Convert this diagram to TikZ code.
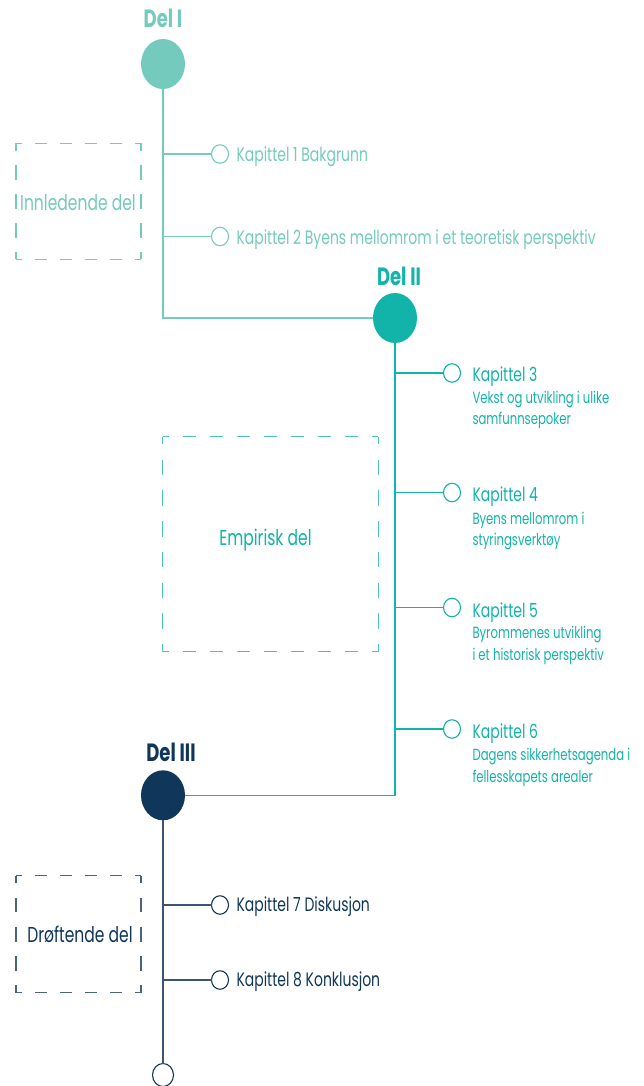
\documentclass[tikz,border=0pt]{standalone}
\usepackage{fontspec}
\setmainfont{Poppins}[FakeStretch=0.72]
\usetikzlibrary{shapes.geometric}
\definecolor{cA}{HTML}{74CABC}
\definecolor{cB}{HTML}{12B3A8}
\definecolor{cBd}{HTML}{4CC4B8}
\definecolor{cC}{HTML}{10365A}
\definecolor{cCl}{HTML}{3B5573}
\definecolor{cCd}{HTML}{4A6380}
\begin{document}
\begin{tikzpicture}[x=1pt,y=-1pt,
  every node/.style={inner sep=0pt, outer sep=0pt},
  bigdot/.style={ellipse, minimum width=44pt, minimum height=50pt},
  smalldot/.style={ellipse, draw, fill=white, line width=1.1pt, minimum width=17pt, minimum height=18.5pt},
  lnk/.style={line width=1.2pt},
  dellabel/.style={anchor=base, font=\fontsize{25}{28}\selectfont\bfseries},
  chap/.style={anchor=base west, font=\fontsize{19.4}{22}\selectfont},
  sub/.style={anchor=base west, font=\fontsize{16.2}{19}\selectfont},
  boxlabel/.style={anchor=base, font=\fontsize{21.6}{25}\selectfont},
  side/.style={line width=1.2pt}
]
\useasboundingbox (0,0) rectangle (644,1086);

% ---------- Del I ----------
\node[dellabel, text=cA] (l1) at (163,28) {Del I};
\node[bigdot, fill=cA] (d1) at (163,64) {};
\node[smalldot, draw=cA] (c1) at (220,154) {};
\node[smalldot, draw=cA] (c2) at (220,236.5) {};
\node[chap, text=cA] (t1) at (236.5,161.5) {Kapittel 1 Bakgrunn};
\node[chap, text=cA] (t2) at (236.5,244) {Kapittel 2 Byens mellomrom i et teoretisk perspektiv};

% box Innledende
\coordinate (b1nw) at (16,143.3);
\coordinate (b1ne) at (141,143.3);
\coordinate (b1sw) at (16,259.3);
\coordinate (b1se) at (141,259.3);
\begin{scope}[draw=cA, side]
\draw[dash pattern=on 12.5pt off 12.5pt, dash phase=6.25pt] (b1nw) -- (b1ne);
\draw[dash pattern=on 12.5pt off 12.5pt, dash phase=6.25pt] (b1sw) -- (b1se);
\draw[dash pattern=on 14.5pt off 14.5pt, dash phase=7.25pt] (b1nw) -- (b1sw);
\draw[dash pattern=on 14.5pt off 14.5pt, dash phase=7.25pt] (b1ne) -- (b1se);
\end{scope}
\node[boxlabel, text=cA] (bl1) at (78,210.7) {Innledende del};

% ---------- Del II ----------
\node[dellabel, text=cB] (l2) at (399,285) {Del II};
\node[bigdot, fill=cB] (d2) at (395,318) {};

\draw[lnk, cA] (d1.south) -- (d1.south |- d2.west) -- (d2.west);
\draw[lnk, cA] (d1.south |- c1) -- (c1.west);
\draw[lnk, cA] (d1.south |- c2) -- (c2.west);

\node[smalldot, draw=cB] (c3) at (452,373) {};
\node[smalldot, draw=cB] (c4) at (452,492.5) {};
\node[smalldot, draw=cB] (c5) at (452,607.5) {};
\node[smalldot, draw=cB] (c6) at (452,729) {};

\node[chap, text=cB] (t3) at (472.5,381) {Kapittel 3};
\node[sub, text=cB] (t3a) at (472.5,403) {Vekst og utvikling i ulike};
\node[sub, text=cB] (t3b) at (472.5,424.5) {samfunnsepoker};
\node[chap, text=cB] (t4) at (472.5,501.5) {Kapittel 4};
\node[sub, text=cB] (t4a) at (472.5,524.5) {Byens mellomrom i};
\node[sub, text=cB] (t4b) at (472.5,545) {styringsverktøy};
\node[chap, text=cB] (t5) at (472.5,617) {Kapittel 5};
\node[sub, text=cB] (t5a) at (472.5,638.5) {Byrommenes utvikling};
\node[sub, text=cB] (t5b) at (472.5,660) {i et historisk perspektiv};
\node[chap, text=cB] (t6) at (472.5,738) {Kapittel 6};
\node[sub, text=cB] (t6a) at (472.5,760) {Dagens sikkerhetsagenda i};
\node[sub, text=cB] (t6b) at (472.5,782) {fellesskapets arealer};

% box Empirisk
\coordinate (b2nw) at (162.7,436.7);
\coordinate (b2ne) at (378.3,436.7);
\coordinate (b2sw) at (162.7,651.7);
\coordinate (b2se) at (378.3,651.7);
\begin{scope}[draw=cBd, side]
\draw[dash pattern=on 13.475pt off 13.475pt, dash phase=6.74pt] (b2nw) -- (b2ne);
\draw[dash pattern=on 13.475pt off 13.475pt, dash phase=6.74pt] (b2sw) -- (b2se);
\draw[dash pattern=on 15.36pt off 15.36pt, dash phase=7.68pt] (b2nw) -- (b2sw);
\draw[dash pattern=on 15.36pt off 15.36pt, dash phase=7.68pt] (b2ne) -- (b2se);
\end{scope}
\node[boxlabel, text=cB] (bl2) at (265.5,545) {Empirisk del};

% ---------- Del III ----------
\node[dellabel, text=cC] (l3) at (171,761) {Del III};
\node[bigdot, fill=cC] (d3) at (163,795.3) {};

\draw[lnk, cB] (d2.south) -- (d2.south |- d3.east) -- (d3.east);
\draw[lnk, cB] (d2.south |- c3) -- (c3.west);
\draw[lnk, cB] (d2.south |- c4) -- (c4.west);
\draw[lnk, cB] (d2.south |- c5) -- (c5.west);
\draw[lnk, cB] (d2.south |- c6) -- (c6.west);

\node[smalldot, draw=cC] (c7) at (220,905) {};
\node[smalldot, draw=cC] (c8) at (220,980) {};
\node[chap, text=cC] (t7) at (236.5,911.5) {Kapittel 7 Diskusjon};
\node[chap, text=cC] (t8) at (236.5,986.5) {Kapittel 8 Konklusjon};
\node[ellipse, draw=cC, fill=white, line width=1.1pt, minimum width=21pt, minimum height=23pt] (end) at (163,1075) {};

\draw[lnk, cCl] (d3.south) -- (end.north);
\draw[lnk, cCl] (d3.south |- c7) -- (c7.west);
\draw[lnk, cCl] (d3.south |- c8) -- (c8.west);

% box Drøftende
\coordinate (b3nw) at (16,875.7);
\coordinate (b3ne) at (141,875.7);
\coordinate (b3sw) at (16,992.7);
\coordinate (b3se) at (141,992.7);
\begin{scope}[draw=cCd, side]
\draw[dash pattern=on 12.5pt off 12.5pt, dash phase=6.25pt] (b3nw) -- (b3ne);
\draw[dash pattern=on 12.5pt off 12.5pt, dash phase=6.25pt] (b3sw) -- (b3se);
\draw[dash pattern=on 14.625pt off 14.625pt, dash phase=7.31pt] (b3nw) -- (b3sw);
\draw[dash pattern=on 14.625pt off 14.625pt, dash phase=7.31pt] (b3ne) -- (b3se);
\end{scope}
\node[boxlabel, text=cC] (bl3) at (80,942) {Drøftende del};
\end{tikzpicture}
\end{document}
